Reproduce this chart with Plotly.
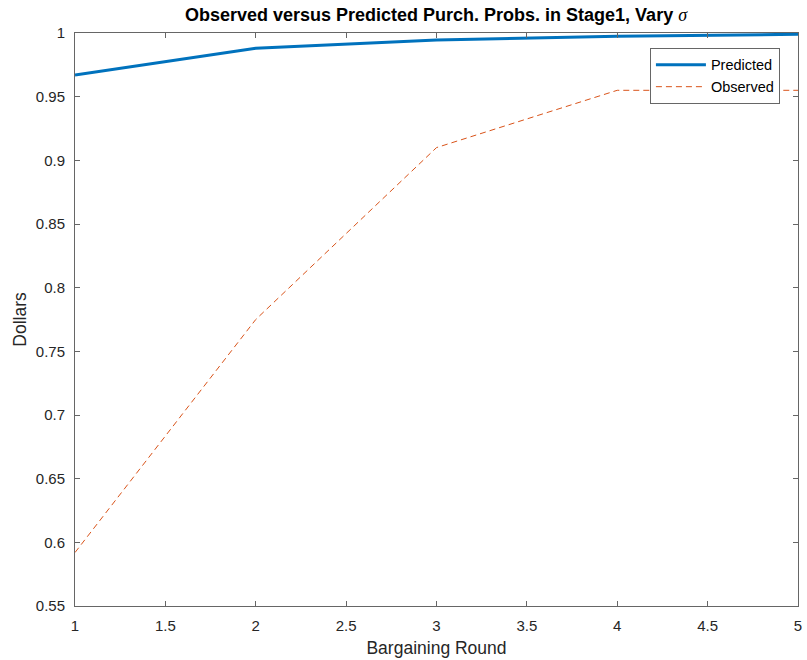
import plotly.graph_objects as go

rounds = [1, 2, 3, 4, 5]
predicted = [0.967, 0.988, 0.9945, 0.9975, 0.999]
observed = [0.592, 0.775, 0.910, 0.955, 0.955]
xticks = [1, 1.5, 2, 2.5, 3, 3.5, 4, 4.5, 5]
xticklabels = ["1", "1.5", "2", "2.5", "3", "3.5", "4", "4.5", "5"]
yticks = [0.55, 0.6, 0.65, 0.7, 0.75, 0.8, 0.85, 0.9, 0.95, 1]
yticklabels = ["0.55", "0.6", "0.65", "0.7", "0.75", "0.8", "0.85", "0.9", "0.95", "1"]

fig = go.Figure()
fig.add_trace(go.Scatter(x=rounds, y=predicted, mode="lines", name="Predicted",
                         line=dict(color="#0072BD", width=3)))
fig.add_trace(go.Scatter(x=rounds, y=observed, mode="lines", name="Observed",
                         line=dict(color="#D95319", width=1, dash="6px,4px")))

axis_common = dict(showline=True, linecolor="#666666", linewidth=1, mirror="ticks",
                   ticks="inside", ticklen=5, tickcolor="#666666", showgrid=False,
                   zeroline=False,
                   tickfont=dict(family="Liberation Sans, Arial", size=15, color="#262626"))

fig.update_layout(
    width=807, height=660,
    margin=dict(l=75, r=5, t=33, b=54),
    plot_bgcolor="white", paper_bgcolor="white",
    title=dict(text="<b>Observed versus Predicted Purch. Probs. in Stage1, Vary </b>"
                    "<span style='font-family:Liberation Serif'><i>σ</i></span>",
               x=(436 / 807), xanchor="center", y=0.978, yanchor="middle",
               font=dict(family="Liberation Sans, Arial", size=18, color="black")),
    xaxis=dict(range=[1, 5], tickvals=xticks, ticktext=xticklabels,
               ticklabelstandoff=6,
               title=dict(text="Bargaining Round", standoff=8,
                          font=dict(family="Liberation Sans, Arial", size=17.5, color="#262626")),
               **axis_common),
    yaxis=dict(range=[0.55, 1], tickvals=yticks, ticktext=yticklabels,
               ticklabelstandoff=6,
               title=dict(text="Dollars", standoff=4,
                          font=dict(family="Liberation Sans, Arial", size=17.5, color="#262626")),
               **axis_common),
    legend=dict(x=0.975, y=0.974, xanchor="right", yanchor="top",
                bgcolor="white", bordercolor="#666666", borderwidth=1,
                font=dict(family="Liberation Sans, Arial", size=14.5, color="black"),
                tracegroupgap=0, itemwidth=50),
    showlegend=True,
)

fig.write_html("out.html")
